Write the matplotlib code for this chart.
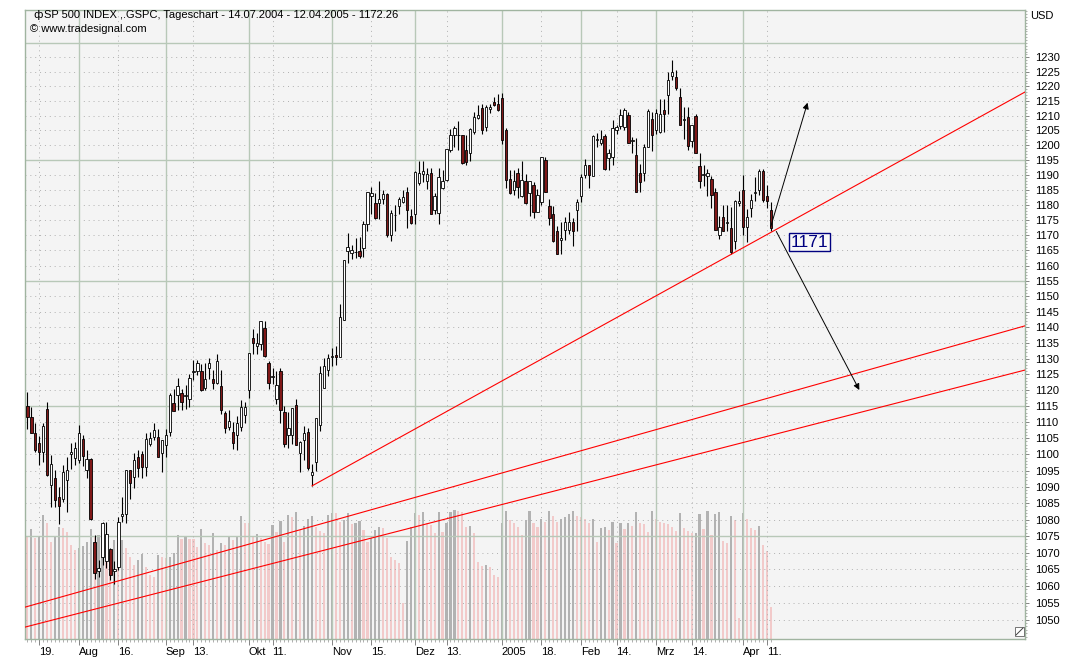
import matplotlib
matplotlib.use("Agg")
import matplotlib.pyplot as plt
import numpy as np
import pandas as pd
from matplotlib.ticker import FixedLocator, FixedFormatter, NullFormatter
from matplotlib.lines import Line2D
from matplotlib.patches import Rectangle

plt.rcParams['font.family'] = ['Liberation Sans', 'DejaVu Sans']

# Handelstage 14.07.2004 - 12.04.2005 (NYSE Feiertage raus)
holidays = ["2004-09-06", "2004-11-25", "2004-12-24", "2005-01-17", "2005-02-21", "2005-03-25"]
dates = pd.bdate_range("2004-07-14", "2005-04-12")
dates = dates[~dates.isin(pd.to_datetime(holidays))]

opens = [1115.1, 1111.5, 1106.5, 1103.4, 1100.7, 1114.0, 1090.5, 1092.6, 1087.0, 1086.4,
         1092.0, 1100.2, 1098.8, 1098.2, 1104.9, 1095.3, 1098.7, 1073.1, 1064.6, 1068.8,
         1067.6, 1071.0, 1064.4, 1065.7, 1081.0, 1081.7, 1095.2, 1093.1, 1099.2, 1100.0,
         1096.2, 1103.3, 1105.4, 1105.4, 1100.3, 1102.8, 1106.8, 1116.0, 1118.4, 1119.1,
         1118.2, 1117.4, 1125.8, 1126.0, 1126.0, 1120.6, 1127.0, 1123.5, 1122.2, 1121.2,
         1112.8, 1108.6, 1106.8, 1105.9, 1108.6, 1112.2, 1120.1, 1136.5, 1134.0, 1134.6,
         1139.7, 1128.5, 1124.1, 1117.4, 1126.0, 1113.3, 1105.9, 1105.9, 1115.4, 1100.3,
         1104.4, 1107.0, 1093.5, 1097.6, 1109.0, 1120.6, 1126.5, 1130.6, 1131.2, 1130.5,
         1142.4, 1164.9, 1164.1, 1164.3, 1164.8, 1165.7, 1173.8, 1182.8, 1180.5, 1180.5,
         1182.1, 1183.7, 1170.0, 1176.5, 1179.6, 1181.0, 1184.3, 1176.3, 1177.1, 1187.3,
         1190.3, 1187.9, 1190.6, 1178.3, 1177.2, 1185.6, 1188.3, 1198.4, 1203.5, 1203.3,
         1203.5, 1198.4, 1197.3, 1204.5, 1209.1, 1212.5, 1206.2, 1212.4, 1214.5, 1214.0,
         1216.0, 1205.1, 1188.5, 1185.0, 1190.7, 1182.8, 1187.9, 1183.8, 1186.7, 1177.7,
         1181.0, 1195.0, 1179.6, 1176.9, 1171.5, 1168.4, 1171.7, 1171.7, 1174.4, 1178.3,
         1183.1, 1190.0, 1193.2, 1189.6, 1201.7, 1200.6, 1203.0, 1195.6, 1196.1, 1205.1,
         1206.4, 1206.0, 1210.2, 1201.4, 1196.6, 1190.7, 1190.6, 1199.5, 1208.7, 1205.1,
         1204.5, 1211.9, 1217.1, 1223.4, 1223.2, 1216.3, 1208.5, 1209.6, 1201.5, 1209.8,
         1192.9, 1190.1, 1189.6, 1188.5, 1184.2, 1170.0, 1175.9, 1174.0, 1172.3, 1167.9,
         1180.5, 1185.0, 1172.8, 1178.8, 1184.0, 1185.0, 1191.4, 1183.1, 1178.3]
highs = [1119.6, 1114.6, 1109.7, 1105.6, 1109.7, 1116.2, 1099.7, 1095.1, 1090.0, 1096.6,
         1099.2, 1103.5, 1103.9, 1109.1, 1105.9, 1101.3, 1098.8, 1075.3, 1067.8, 1079.3,
         1079.3, 1071.4, 1067.6, 1080.7, 1086.8, 1095.2, 1095.2, 1100.3, 1101.4, 1101.0,
         1106.5, 1106.8, 1109.6, 1107.8, 1104.4, 1108.0, 1119.1, 1120.5, 1123.8, 1120.5,
         1121.6, 1125.3, 1129.6, 1129.5, 1128.3, 1128.6, 1130.1, 1126.4, 1131.4, 1126.4,
         1113.6, 1113.8, 1110.1, 1111.8, 1116.9, 1116.3, 1131.9, 1139.5, 1138.2, 1142.1,
         1142.1, 1129.2, 1127.0, 1126.0, 1127.0, 1115.0, 1113.2, 1114.5, 1117.4, 1104.1,
         1108.9, 1108.1, 1097.1, 1111.2, 1127.6, 1130.3, 1131.4, 1133.4, 1134.0, 1147.6,
         1161.8, 1170.6, 1166.8, 1169.0, 1169.3, 1174.8, 1184.2, 1186.0, 1183.8, 1188.1,
         1184.9, 1184.0, 1178.2, 1179.9, 1182.5, 1185.0, 1186.0, 1178.7, 1191.4, 1194.5,
         1194.8, 1192.4, 1192.2, 1184.1, 1192.2, 1191.5, 1198.7, 1205.3, 1206.6, 1208.0,
         1203.5, 1203.4, 1205.9, 1211.4, 1213.7, 1214.1, 1213.5, 1213.9, 1216.5, 1217.3,
         1217.8, 1205.8, 1191.6, 1191.6, 1192.2, 1194.8, 1190.3, 1187.9, 1187.7, 1185.2,
         1196.0, 1196.0, 1182.0, 1179.5, 1173.0, 1174.3, 1176.0, 1177.5, 1175.6, 1182.1,
         1190.4, 1195.3, 1193.2, 1203.5, 1204.2, 1205.1, 1203.8, 1198.8, 1208.4, 1206.9,
         1212.4, 1212.6, 1211.3, 1202.9, 1202.5, 1193.5, 1200.4, 1212.2, 1211.4, 1212.3,
         1215.8, 1215.7, 1224.8, 1229.1, 1225.7, 1219.4, 1213.0, 1213.0, 1206.8, 1210.5,
         1197.2, 1193.3, 1192.0, 1189.7, 1185.5, 1176.3, 1180.1, 1179.9, 1179.4, 1181.5,
         1184.6, 1189.8, 1178.6, 1183.6, 1189.3, 1191.9, 1191.8, 1186.6, 1181.0]
lows = [1107.8, 1106.7, 1100.7, 1096.6, 1097.6, 1093.2, 1083.8, 1083.8, 1078.7, 1085.2,
        1082.4, 1095.4, 1096.6, 1097.2, 1096.3, 1092.6, 1080.0, 1062.2, 1062.7, 1066.2,
        1065.3, 1061.8, 1060.7, 1064.8, 1079.3, 1078.9, 1086.3, 1089.6, 1093.0, 1092.8,
        1093.2, 1102.5, 1104.6, 1099.2, 1094.6, 1099.2, 1105.6, 1113.6, 1113.8, 1113.8,
        1114.1, 1114.8, 1123.4, 1124.7, 1119.8, 1120.2, 1123.5, 1120.3, 1122.0, 1112.7,
        1106.5, 1107.5, 1101.5, 1101.3, 1107.4, 1109.7, 1117.5, 1131.5, 1131.4, 1132.9,
        1130.5, 1120.3, 1122.0, 1115.8, 1109.6, 1102.2, 1102.1, 1103.3, 1103.0, 1094.5,
        1098.2, 1095.1, 1090.3, 1094.8, 1107.4, 1120.6, 1124.6, 1127.6, 1128.1, 1130.5,
        1142.3, 1160.7, 1162.3, 1162.5, 1162.5, 1162.9, 1171.4, 1177.1, 1175.3, 1175.4,
        1180.2, 1169.5, 1167.9, 1171.5, 1176.9, 1180.5, 1172.4, 1173.8, 1173.8, 1186.7,
        1187.7, 1185.2, 1177.1, 1177.1, 1173.8, 1185.2, 1188.0, 1197.8, 1199.4, 1198.4,
        1193.5, 1193.4, 1194.7, 1203.9, 1208.7, 1203.8, 1204.9, 1211.0, 1213.4, 1211.7,
        1200.3, 1185.6, 1183.7, 1183.3, 1182.2, 1182.5, 1180.4, 1176.3, 1175.8, 1177.5,
        1180.1, 1184.4, 1173.4, 1167.8, 1163.8, 1163.8, 1168.4, 1170.2, 1166.3, 1171.4,
        1181.0, 1188.9, 1185.6, 1189.6, 1199.3, 1200.2, 1191.5, 1191.5, 1193.3, 1203.6,
        1205.5, 1205.1, 1200.6, 1197.4, 1184.2, 1184.2, 1187.8, 1199.5, 1198.1, 1203.6,
        1204.2, 1204.5, 1210.5, 1222.1, 1218.6, 1206.7, 1202.2, 1198.2, 1199.5, 1197.4,
        1185.6, 1186.3, 1182.8, 1178.8, 1171.6, 1168.7, 1171.2, 1171.4, 1163.7, 1165.4,
        1179.5, 1169.9, 1167.7, 1176.1, 1181.4, 1183.4, 1181.1, 1179.0, 1171.5]
closes = [1111.5, 1106.7, 1101.3, 1100.7, 1108.8, 1093.6, 1096.9, 1086.1, 1084.0, 1094.6,
          1095.3, 1100.6, 1101.9, 1106.5, 1099.4, 1098.7, 1080.3, 1064.0, 1065.4, 1079.0,
          1075.5, 1063.2, 1065.0, 1079.3, 1081.8, 1095.1, 1091.2, 1098.4, 1095.7, 1096.2,
          1104.9, 1105.1, 1107.7, 1099.2, 1104.4, 1105.9, 1118.4, 1113.6, 1121.2, 1116.3,
          1118.4, 1123.8, 1126.0, 1128.5, 1120.2, 1123.5, 1128.6, 1122.2, 1129.2, 1113.7,
          1108.3, 1110.3, 1103.4, 1109.8, 1114.8, 1114.8, 1131.8, 1135.1, 1134.9, 1142.0,
          1130.8, 1122.2, 1124.4, 1121.6, 1113.8, 1103.3, 1108.2, 1114.3, 1103.0, 1103.9,
          1106.5, 1095.7, 1094.6, 1111.2, 1125.5, 1127.6, 1130.3, 1130.9, 1130.5, 1143.4,
          1161.8, 1166.0, 1165.1, 1164.4, 1163.0, 1173.6, 1184.2, 1184.0, 1175.5, 1181.8,
          1183.5, 1170.0, 1177.3, 1176.7, 1181.8, 1182.5, 1178.3, 1173.9, 1191.1, 1190.6,
          1191.3, 1190.4, 1177.1, 1182.9, 1189.3, 1188.0, 1198.6, 1203.5, 1205.8, 1203.5,
          1194.1, 1194.4, 1205.4, 1209.6, 1210.2, 1205.1, 1213.0, 1212.8, 1213.7, 1211.8,
          1201.8, 1188.3, 1183.8, 1187.9, 1186.1, 1188.3, 1180.5, 1187.9, 1177.7, 1183.3,
          1195.9, 1184.4, 1175.5, 1167.9, 1163.8, 1168.9, 1174.4, 1174.4, 1171.2, 1181.0,
          1189.4, 1193.3, 1189.9, 1203.0, 1202.0, 1202.2, 1191.8, 1197.2, 1205.7, 1206.2,
          1210.2, 1211.9, 1200.6, 1201.6, 1184.2, 1187.6, 1199.5, 1211.5, 1203.5, 1210.8,
          1210.6, 1210.6, 1222.2, 1225.1, 1219.4, 1206.8, 1208.9, 1199.7, 1206.8, 1197.4,
          1187.9, 1190.3, 1190.6, 1183.3, 1171.7, 1172.6, 1171.2, 1174.2, 1164.6, 1181.3,
          1181.3, 1172.8, 1176.1, 1181.6, 1184.2, 1191.4, 1181.6, 1181.3, 1172.3]
# Umsatz in Mio. Stueck
volumes = [1464, 1574, 1440, 1464, 1774, 1664, 1393, 1464, 1607, 1583,
           1536, 1345, 1273, 1307, 1331, 1393, 1569, 1464, 1488, 1512,
           1369, 1249, 1416, 1369, 1416, 1297, 1178, 1059, 1130, 1216,
           1025, 916, 892, 1202, 1178, 1154, 1178, 1235, 1488, 1426,
           1474, 1426, 1426, 1321, 1569, 1369, 1345, 1512, 1273, 1369,
           1345, 1464, 1416, 1464, 1760, 1655, 1655, 1464, 1502, 1440,
           1393, 1359, 1631, 1536, 1693, 1393, 1774, 1750, 1817, 1560,
           1617, 1712, 1760, 1607, 1550, 1512, 1774, 1808, 1808, 1679,
           1703, 1798, 1645, 1655, 1683, 1560, 1393, 1440, 1560, 1607,
           1583, 1440, 1178, 1130, 1083, 520, 1402, 1607, 1808, 1774,
           1812, 1655, 1631, 1512, 1812, 1536, 1655, 1822, 1846, 1836,
           1822, 1607, 1617, 1512, 1106, 1044, 1054, 1025, 916, 892,
           1664, 1836, 1703, 1664, 1607, 1488, 1703, 1836, 1664, 1607,
           1712, 1679, 1831, 1760, 1679, 1712, 1750, 1788, 1831, 1760,
           1750, 1712, 1655, 1712, 1393, 1583, 1607, 1560, 1679, 1369,
           1664, 1569, 1664, 1617, 1817, 1664, 1641, 1536, 1831, 1712,
           1679, 1655, 1645, 1607, 1550, 1798, 1583, 1550, 1512, 1521,
           1788, 1569, 1831, 1488, 1784, 1817, 1402, 1369, 1760, 1703,
           295, 1798, 1712, 1583, 1560, 1617, 1345, 1264, 462]

month_ticks = ["2004-08-02", "2004-09-01", "2004-10-01", "2004-11-01", "2004-12-01",
               "2005-01-03", "2005-02-01", "2005-03-01", "2005-04-01"]
month_labels = ["Aug", "Sep", "Okt", "Nov", "Dez", "2005", "Feb", "Mrz", "Apr"]
mid_ticks = ["2004-07-19", "2004-08-16", "2004-09-13", "2004-10-11", "2004-11-15",
             "2004-12-13", "2005-01-18", "2005-02-14", "2005-03-14", "2005-04-11"]
mid_labels = ["19.", "16.", "13.", "11.", "15.", "13.", "18.", "14.", "14.", "11."]

price_ticks = list(range(1050, 1235, 5))
major_grid = [1075, 1115, 1155, 1195, 1235]

# Trendlinien / Pfeile: (Tagesindex, Kurs)
support = [(72, 1090.29), (178, 1163.69)]
channel_a = [(-0.6, 1053.7), (252.3, 1140.5)]
channel_b = [(-0.6, 1047.8), (252.3, 1126.4)]
arrow_up = [(188.0, 1172.8), (197.3, 1214.4)]
arrow_down = [(189.4, 1171.2), (210.4, 1120.1)]
mark_text = "1171"
mark_pos = (197.7, 1167.7)

XMIN, XMAX = -0.6, 252.3
YMIN, YMAX = 1044.3, 1246.5

n = len(dates)
assert len(opens) == len(highs) == len(lows) == len(closes) == len(volumes) == n
x = np.arange(n)
o = np.array(opens); c = np.array(closes)
h = np.maximum(np.array(highs), np.maximum(o, c))
l = np.minimum(np.array(lows), np.minimum(o, c))
up = c >= o
vol = np.array(volumes)
vol_up = np.r_[False, vol[1:] > vol[:-1]]

W, H = 1082, 668
fig = plt.figure(figsize=(W / 100, H / 100), dpi=100, facecolor='white')
rect = [25 / W, 29 / H, 1000 / W, 629 / H]

# Volumen-Panel hinten
axv = fig.add_axes(rect)
axv.set_facecolor('#f4f4f4')
axv.bar(x, vol, width=0.55, color=np.where(vol_up, '#b2b2b2', '#f2caca'), linewidth=0)
axv.set_xlim(XMIN, XMAX)
axv.set_ylim(0, 9000)
axv.set_xticks([]); axv.set_yticks([])
for s in axv.spines.values():
    s.set_visible(False)

ax = fig.add_axes(rect, facecolor='none')
ax.set_yscale('log')
ax.set_xlim(XMIN, XMAX)
ax.set_ylim(YMIN, YMAX)

# Gitter
dot = (0, (1, 4))
for p in price_ticks:
    if p not in major_grid:
        ax.axhline(p, color='#b0b0b0', lw=0.7, ls=dot, zorder=1)
for p in major_grid:
    ax.axhline(p, color='#b8c8b8', lw=1.0, zorder=1)
month_idx = [dates.get_loc(pd.Timestamp(d)) for d in month_ticks]
mid_idx = [dates.get_loc(pd.Timestamp(d)) for d in mid_ticks]
for i in month_idx:
    ax.axvline(i, color='#b8c8b8', lw=1.0, zorder=1)
for i in mid_idx:
    ax.axvline(i, color='#b0b0b0', lw=0.7, ls=dot, zorder=1)

# Kerzen
ax.vlines(x, l, h, color='black', lw=0.8, zorder=3)
body_lo = np.minimum(o, c)
body_h = np.maximum(np.abs(c - o), 0.25)
ax.bar(x, body_h, bottom=body_lo, width=0.6, color=np.where(up, 'white', '#801818'),
       edgecolor='black', linewidth=0.6, zorder=4)

# Trendlinien
def extend(pts):
    (x0, p0), (x1, p1) = pts
    k = (np.log(p1) - np.log(p0)) / (x1 - x0)
    return np.exp(np.log(p0) + k * (XMAX - x0))

ax.plot([support[0][0], XMAX], [support[0][1], extend(support)], color='#ff0000', lw=0.8, zorder=5)
for ch in (channel_a, channel_b):
    ax.plot([ch[0][0], ch[1][0]], [ch[0][1], ch[1][1]], color='#ff0000', lw=0.8, zorder=5)

for arr in (arrow_up, arrow_down):
    ax.annotate('', xy=arr[1], xytext=arr[0],
                arrowprops=dict(arrowstyle='-|>', color='black', lw=0.7,
                                mutation_scale=9, shrinkA=0, shrinkB=0), zorder=6)
ax.text(mark_pos[0], mark_pos[1], mark_text, ha='center', va='center', fontsize=12.5,
        color='#000080', zorder=7,
        bbox=dict(boxstyle='square,pad=0.1', fc='#f8f8f8', ec='#000080', lw=1.0))

# Achsen
ax.yaxis.tick_right()
ax.yaxis.set_major_locator(FixedLocator(price_ticks))
ax.yaxis.set_major_formatter(FixedFormatter([str(p) for p in price_ticks]))
ax.yaxis.set_minor_locator(FixedLocator(list(range(1045, 1247))))
ax.yaxis.set_minor_formatter(NullFormatter())
ax.tick_params(axis='y', which='major', length=3, width=0.6, color='#707070', pad=4,
               labelsize=8, labelcolor='black')
ax.tick_params(axis='y', which='minor', length=1.5, width=0.5, color='#909090')

xt = sorted(zip(month_idx + mid_idx, month_labels + mid_labels))
ax.xaxis.set_major_locator(FixedLocator([t[0] for t in xt]))
ax.xaxis.set_major_formatter(FixedFormatter([t[1] for t in xt]))
ax.xaxis.set_minor_locator(FixedLocator(list(x)))
ax.tick_params(axis='x', which='major', length=4, width=0.6, color='#707070', pad=1.5,
               labelsize=8)
ax.tick_params(axis='x', which='minor', length=2, width=0.5, color='#909090')
for lab in ax.get_xticklabels():
    lab.set_horizontalalignment('left')

for s in ax.spines.values():
    s.set_color('#a0b4a0')
    s.set_linewidth(1.0)

# Kopfzeilen
fig.text(33 / W, 1 - 15 / H, 'ф', fontsize=8, va='center', family='DejaVu Sans')
fig.text(44 / W, 1 - 15 / H, 'SP 500 INDEX ,.GSPC, Tageschart - 14.07.2004 - 12.04.2005 - 1172.26',
         fontsize=8, va='center')
fig.text(30 / W, 1 - 29 / H, '© www.tradesignal.com', fontsize=8, va='center')
fig.text(1030 / W, 1 - 16 / H, 'USD', fontsize=8, va='center')

# kleines Symbol unten rechts
fig.add_artist(Rectangle((1015 / W, 1 - 636 / H), 9 / W, 9 / H, transform=fig.transFigure,
                         fc='white', ec='#606060', lw=0.6))
fig.add_artist(Line2D([1016 / W, 1023 / W], [1 - 635 / H, 1 - 628 / H],
                      transform=fig.transFigure, color='#404040', lw=0.7))

fig.savefig('out.png', dpi=100)
